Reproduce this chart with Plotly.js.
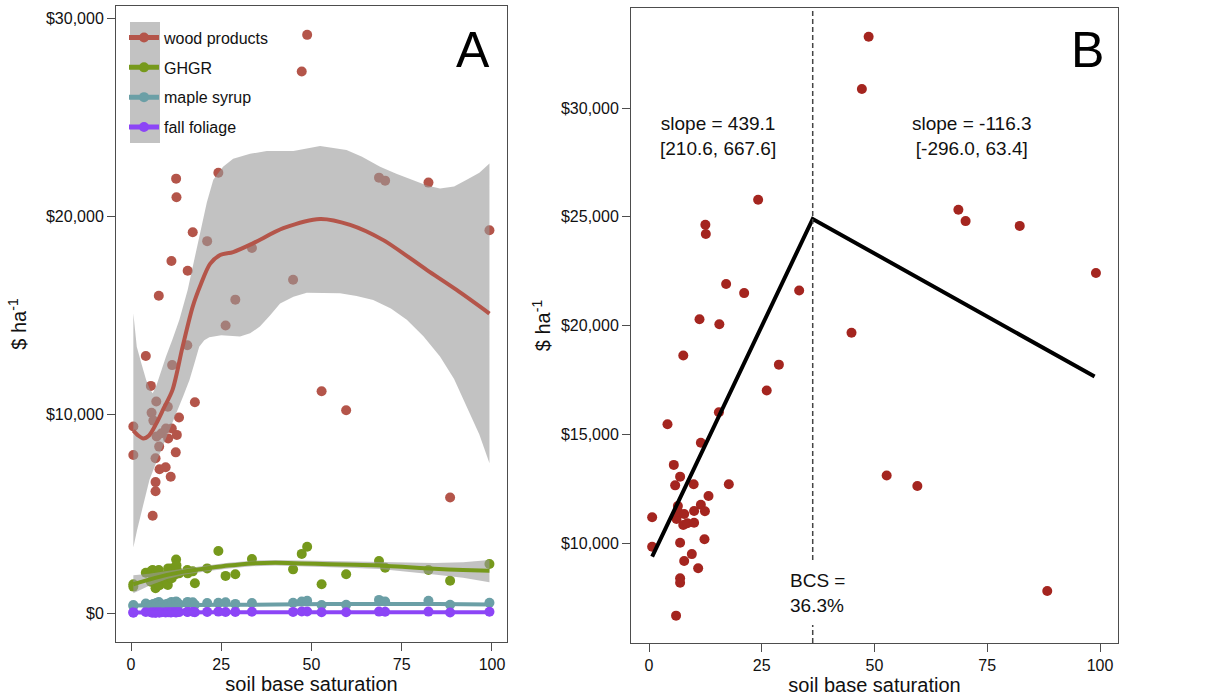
<!DOCTYPE html>
<html>
<head>
<meta charset="utf-8">
<script src="https://cdn.plot.ly/plotly-3.0.1.min.js"></script>
<style>html,body{margin:0;padding:0;background:#fff;}#chart{width:1222px;height:697px;}</style>
</head>
<body>
<div id="chart"></div>
<script>
// ---------- Panel A: per-site values ----------
const siteBS = [0.65,0.65,4.1,5.5,5.7,6.0,6.2,6.8,6.8,6.8,7.0,7.1,7.7,7.8,7.9,8.5,9.6,9.7,10.2,10.3,11.0,11.2,11.3,11.4,12.4,12.5,12.6,12.7,13.3,15.6,15.7,17.1,17.7,21.1,24.2,26.2,28.9,33.5,44.9,47.3,48.8,52.8,59.6,68.7,70.4,82.4,88.4,99.3];
const woodValue = [9400,7970,12960,11450,10100,4900,9700,7800,6600,6140,10660,8900,16000,8390,7250,9060,7350,9300,10400,8800,6870,17750,9300,12500,8100,21900,20960,8980,9860,13500,17260,19200,10630,18750,22200,14500,15800,18400,16800,27300,29150,11180,10220,21950,21800,21700,5820,19300];
const ghgrValue = [1330,1450,2030,1580,2130,2170,1850,1920,1250,1750,2050,1600,2170,1950,1400,1750,1700,1920,1410,2250,1800,2250,1750,2100,1950,2700,2400,2170,2000,2170,2000,2100,1500,2250,3130,1870,1950,2720,2200,2980,3340,1450,1950,2620,2280,2170,1630,2470];
const mapleValue = [400,350,480,380,420,300,450,380,330,350,500,420,550,400,360,430,370,440,470,400,340,560,430,520,380,580,560,420,450,520,560,540,420,500,520,540,460,500,520,580,620,400,410,660,580,620,420,520];
const foliageValue = [30,20,50,40,35,15,45,30,25,20,50,35,60,30,25,40,30,45,50,35,25,70,40,55,30,75,70,40,45,55,60,65,35,55,70,50,55,60,55,75,80,35,40,70,65,70,25,60];

// smoothed fits and confidence bands
const woodFitX = [0.65,2,3.4,5,7,9,11.5,14.3,17.1,19.4,21.9,24.7,28.3,33.9,42.2,52.4,60.7,69.9,81.9,90.2,99.3];
const woodFitY = [9200,8950,8800,8950,9550,10300,11250,13430,15450,16600,17600,18050,18200,18650,19400,19870,19570,18800,17300,16290,15100];
const woodUpX = [0.65,1.6,3,4.2,5.2,6.0,6.9,7.8,9.7,11.5,13.4,15.7,17.4,19.1,21,22.8,25.5,28.3,33,37.6,45,52.4,59.7,64,69,73.5,78.2,82,85.6,89.5,93,96.5,99.3];
const woodUpY = [15100,13430,12500,11750,11300,11080,11400,11920,12930,13800,14780,16290,17700,19150,20700,21840,22500,22900,23150,23300,23300,23550,23350,23000,22500,22150,21840,21550,21400,21500,21840,22200,22670];
const woodLoX = [0.65,1.7,2.8,4,5.1,7,8.8,10.7,12.5,14.4,16.2,17.6,18.9,20.3,21.7,25,30.2,33,35.7,38.5,41.3,45,48.7,53,57.9,62.5,67.1,72,76.4,81,85.6,89.5,93,96.5,99.3];
const woodLoY = [3300,4200,5030,5900,6700,7600,8390,9230,10070,10900,11750,12600,13430,13750,13900,14000,13940,14100,14440,15000,15600,15950,16150,16150,16120,15980,15780,15350,14780,13950,12930,11800,10400,9000,7550];

const ghgrFitX = [0.65,5,10,15,21,27,33.5,40,47,55,62,69,76,84,92,99.3];
const ghgrFitY = [1450,1680,1920,2100,2250,2390,2500,2530,2500,2460,2430,2400,2320,2230,2170,2130];
const ghgrUpY = [1900,1980,2120,2260,2400,2530,2640,2670,2650,2610,2590,2580,2540,2520,2560,2670];
const ghgrLoY = [1000,1380,1720,1940,2100,2250,2360,2390,2350,2310,2270,2220,2100,1940,1780,1550];

const mapleFitX = [0.65,10,25,40,55,70,85,99.3];
const mapleFitY = [380,390,410,430,450,460,450,430];
const foliageFitX = [0.65,25,50,75,99.3];
const foliageFitY = [30,38,42,42,40];

const seriesNames = ["wood products","GHGR","maple syrup","fall foliage"];
const seriesColors = ["#b4554a","#76991c","#6b9fa6","#8c45f6"];

// ---------- Panel B ----------
const totalBS = [0.7,0.7,4.1,5.5,5.8,6.0,6.1,6.4,6.4,6.9,6.9,6.9,6.9,7.6,7.6,7.8,7.8,8.5,9.5,9.9,10.0,10.0,10.9,11.2,11.5,11.5,12.3,12.4,12.5,12.6,13.2,15.5,15.6,17.1,17.7,21.1,24.2,26.1,28.8,33.3,44.9,47.2,48.7,52.7,59.5,68.6,70.2,82.2,88.3,99.1];
const totalValue = [11180,9830,15460,13590,12650,6660,11100,11700,11440,13050,10010,8380,8170,18620,10830,11330,9170,10910,9490,12700,11470,10930,8840,20290,14610,11760,10170,11460,24630,24210,12160,16010,20060,21910,12700,21490,25780,17010,18200,21610,19670,30870,33280,13100,12620,25320,24800,24580,7790,22410];
const segX = [0.7,36.3,98.8];
const segY = [9370,24900,17650];
const bcs = 36.3;
const slopeLeft = "slope = 439.1<br>[210.6, 667.6]";
const slopeRight = "slope = -116.3<br>[-296.0, 63.4]";
const bcsLabel = "BCS =<br>36.3%";

const xTickVals = [0,25,50,75,100];
const xTickText = ["0","25","50","75","100"];
const aTickVals = [0,10000,20000,30000];
const aTickText = ["$0","$10,000","$20,000","$30,000"];
const bTickVals = [10000,15000,20000,25000,30000];
const bTickText = ["$10,000","$15,000","$20,000","$25,000","$30,000"];

const FONT = "Liberation Sans, Arial, Helvetica, sans-serif";
const bandFill = "rgba(153,153,153,0.6)";

const traces = [];
const aValues = [woodValue, ghgrValue, mapleValue, foliageValue];
aValues.forEach((v,i)=>{
  traces.push({x: siteBS, y: v, type:"scatter", mode:"markers", xaxis:"x", yaxis:"y",
    marker:{size:10, color:seriesColors[i]}, showlegend:false, hoverinfo:"skip"});
});
traces.push({x: woodUpX.concat(woodLoX.slice().reverse()), y: woodUpY.concat(woodLoY.slice().reverse()),
  type:"scatter", mode:"lines", fill:"toself", fillcolor:bandFill, line:{width:0},
  xaxis:"x", yaxis:"y", showlegend:false, hoverinfo:"skip"});
traces.push({x: ghgrFitX.concat(ghgrFitX.slice().reverse()), y: ghgrUpY.concat(ghgrLoY.slice().reverse()),
  type:"scatter", mode:"lines", fill:"toself", fillcolor:bandFill, line:{width:0},
  xaxis:"x", yaxis:"y", showlegend:false, hoverinfo:"skip"});
const fits = [[woodFitX,woodFitY],[ghgrFitX,ghgrFitY],[mapleFitX,mapleFitY],[foliageFitX,foliageFitY]];
fits.forEach((f,i)=>{
  traces.push({x:f[0], y:f[1], type:"scatter", mode:"lines", xaxis:"x", yaxis:"y",
    line:{color:seriesColors[i], width:4, shape:"spline", smoothing:0.8}, showlegend:false, hoverinfo:"skip"});
});
seriesNames.forEach((n,i)=>{
  traces.push({x:[null], y:[null], type:"scatter", mode:"lines+markers", name:n, legendgroup:"g"+i,
    xaxis:"x", yaxis:"y", line:{color:seriesColors[i], width:5}, marker:{size:10, color:seriesColors[i]}});
});
traces.push({x: totalBS, y: totalValue, type:"scatter", mode:"markers", xaxis:"x2", yaxis:"y2",
  marker:{size:10, color:"#a4251f"}, showlegend:false, hoverinfo:"skip"});
traces.push({x: segX, y: segY, type:"scatter", mode:"lines", xaxis:"x2", yaxis:"y2",
  line:{color:"#000", width:4}, showlegend:false, hoverinfo:"skip"});

const axisCommon = {showline:true, mirror:true, linecolor:"#4d4d4d", linewidth:1, ticks:"outside",
  ticklen:8, tickcolor:"#4d4d4d", tickwidth:1, showgrid:false, zeroline:false,
  tickfont:{size:16, color:"#111", family:FONT}};

const layout = {
  width:1222, height:697, paper_bgcolor:"#fff", plot_bgcolor:"#fff",
  margin:{l:0, r:0, t:6, b:54},
  font:{family:FONT, color:"#111"},
  showlegend:true,
  legend:{x:124/1222, y:0.977, xanchor:"left", yanchor:"top", bgcolor:"rgba(0,0,0,0)",
    font:{size:16, color:"#111", family:FONT}, traceorder:"grouped", tracegroupgap:6},
  xaxis:Object.assign({}, axisCommon, {domain:[116/1222, 507/1222], range:[-4.155,104.16], anchor:"y",
    tickvals:xTickVals, ticktext:xTickText, title:{text:"soil base saturation", font:{size:20, color:"#111"}, standoff:2}}),
  yaxis:Object.assign({}, axisCommon, {domain:[1/637,1], range:[-1462,30605], anchor:"x",
    tickvals:aTickVals, ticktext:aTickText, title:{text:"$ ha<sup>-1</sup>", font:{size:20, color:"#111"}, standoff:13}}),
  xaxis2:Object.assign({}, axisCommon, {domain:[631/1222, 1118/1222], range:[-3.99,103.99], anchor:"y2",
    tickvals:xTickVals, ticktext:xTickText, title:{text:"soil base saturation", font:{size:20, color:"#111"}, standoff:2}}),
  yaxis2:Object.assign({}, axisCommon, {domain:[0,635/637], range:[5402,34598], anchor:"x2",
    tickvals:bTickVals, ticktext:bTickText, title:{text:"$ ha<sup>-1</sup>", font:{size:20, color:"#111"}, standoff:4}}),
  shapes:[
    {type:"rect", xref:"x domain", yref:"y domain", x0:14/391, x1:44/391, y0:1-137/636, y1:1-16/636,
      fillcolor:bandFill, line:{width:0}, layer:"below"},
    {type:"line", xref:"x2", yref:"y2 domain", x0:bcs, x1:bcs, y0:83/635, y1:1,
      line:{color:"#444", width:1.5, dash:"5px,3px"}},
    {type:"line", xref:"x2", yref:"y2 domain", x0:bcs, x1:bcs, y0:0, y1:18/635,
      line:{color:"#444", width:1.5, dash:"5px,3px"}}
  ],
  annotations:[
    {text:"A", xref:"x domain", yref:"y domain", x:0.913, y:0.931, xanchor:"center", yanchor:"middle", showarrow:false, font:{size:50, color:"#000"}},
    {text:"B", xref:"x2 domain", yref:"y2 domain", x:0.938, y:0.934, xanchor:"center", yanchor:"middle", showarrow:false, font:{size:50, color:"#000"}},
    {text:slopeLeft, xref:"x2 domain", yref:"y2 domain", x:0.1786, y:0.798, xanchor:"center", yanchor:"middle", showarrow:false, align:"center", font:{size:19, color:"#111"}},
    {text:slopeRight, xref:"x2 domain", yref:"y2 domain", x:0.701, y:0.798, xanchor:"center", yanchor:"middle", showarrow:false, align:"center", font:{size:19, color:"#111"}},
    {text:bcsLabel, xref:"x2 domain", yref:"y2 domain", x:0.3224, y:0.078, xanchor:"left", yanchor:"middle", showarrow:false, align:"left", font:{size:19, color:"#111"}}
  ]
};

Plotly.newPlot("chart", traces, layout, {staticPlot:true, displayModeBar:false});
</script>
</body>
</html>
